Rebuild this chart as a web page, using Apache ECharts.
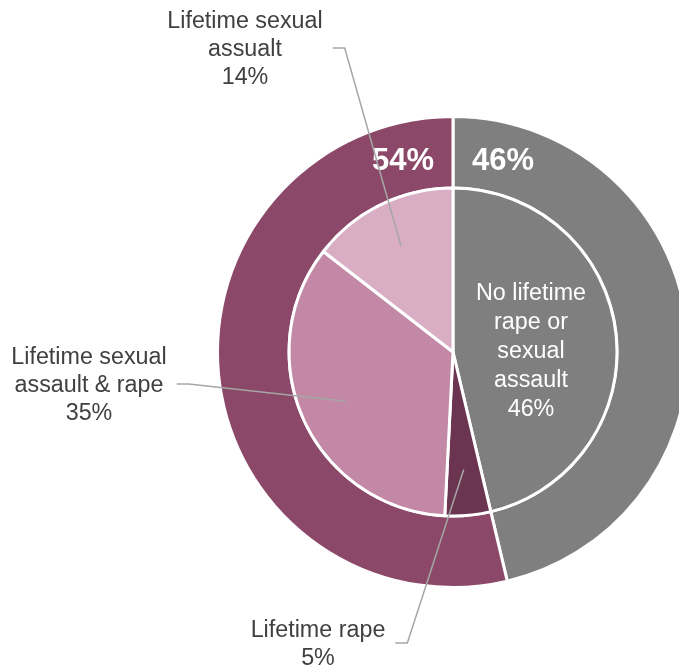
<!DOCTYPE html>
<html><head><meta charset="utf-8">
<script src="https://cdn.jsdelivr.net/npm/echarts@6/dist/echarts.min.js"></script>
<style>html,body{margin:0;padding:0;background:#fff}#c{width:679px;height:669px}</style>
</head><body><div id="c"></div>
<script>
// ---- data ----
const innerCategories = ['No lifetime rape or sexual assault', 'Lifetime rape', 'Lifetime sexual assault & rape', 'Lifetime sexual assualt'];
const innerLabelNames = ['No lifetime\nrape or\nsexual\nassault', 'Lifetime rape', 'Lifetime sexual\nassault & rape', 'Lifetime sexual\nassualt'];
const innerValues = [46.3, 4.5, 34.7, 14.5];
const innerPercentLabels = ['46%', '5%', '35%', '14%'];
const outerCategories = ['No lifetime rape or sexual assault', 'Any lifetime rape or sexual assault'];
const outerValues = [46.3, 53.7];
const outerPercentLabels = ['46%', '54%'];

// ---- styles / layout ----
const innerColors = ['#7f7f7f', '#6b3551', '#c288a5', '#d9aec4'];
const outerColors = ['#7f7f7f', '#8b4868'];
const FONT = '"Liberation Sans", Arial, sans-serif';
const CX = 453, CY = 352, R_IN = 164, R_OUT = 235.5;
const innerLabelPos = [[531, 352], [318, 645], [89, 386], [245, 50]];
const outerLabelPos = [[503, 161], [403, 161]];

function midAngle(values, i) {
  const total = values.reduce((a, b) => a + b, 0);
  let acc = 0;
  for (let k = 0; k < i; k++) acc += values[k];
  return (acc + values[i] / 2) / total * 2 * Math.PI;
}

const common = {
  type: 'pie',
  center: [CX, CY],
  startAngle: 90,
  clockwise: true,
  avoidLabelOverlap: false,
  silent: true,
  emphasis: {disabled: true}
};

const chart = echarts.init(document.getElementById('c'), null, {renderer: 'canvas'});
chart.setOption({
  animation: false,
  backgroundColor: '#ffffff',
  series: [
    Object.assign({}, common, {
      name: 'outer',
      z: 2,
      radius: [R_IN, R_OUT],
      itemStyle: {borderColor: '#ffffff', borderWidth: 3},
      label: {
        show: true,
        position: 'inside',
        formatter: p => outerPercentLabels[p.dataIndex],
        color: '#ffffff',
        fontFamily: FONT,
        fontWeight: 'bold',
        fontSize: 31
      },
      labelLine: {show: false},
      labelLayout: p => ({x: outerLabelPos[p.dataIndex][0], y: outerLabelPos[p.dataIndex][1], align: 'center', verticalAlign: 'middle'}),
      data: outerCategories.map((c, i) => ({name: c, value: outerValues[i], itemStyle: {color: outerColors[i]}}))
    }),
    Object.assign({}, common, {
      name: 'inner',
      z: 4,
      radius: [0, R_IN],
      itemStyle: {borderColor: '#ffffff', borderWidth: 3},
      label: {
        show: true,
        position: 'inside',
        formatter: p => p.dataIndex === 0 ? innerLabelNames[0] + '\n' + innerPercentLabels[0] : '',
        color: '#ffffff',
        fontFamily: FONT,
        fontSize: 23.3,
        lineHeight: 29,
        align: 'center'
      },
      labelLine: {show: false},
      labelLayout: p => p.dataIndex === 0 ? {x: innerLabelPos[0][0], y: innerLabelPos[0][1], align: 'center', verticalAlign: 'middle'} : {},
      data: innerCategories.map((c, i) => ({name: c, value: innerValues[i], itemStyle: {color: innerColors[i]}}))
    }),
    Object.assign({}, common, {
      name: 'inner-labels',
      z: 8,
      radius: [0, R_IN],
      itemStyle: {color: 'rgba(0,0,0,0)', borderWidth: 0},
      label: {
        show: true,
        position: 'outside',
        formatter: p => innerLabelNames[p.dataIndex] + '\n' + innerPercentLabels[p.dataIndex],
        color: '#404040',
        fontFamily: FONT,
        fontSize: 23.3,
        lineHeight: 28,
        align: 'center'
      },
      labelLine: {show: true, smooth: false, lineStyle: {color: '#a6a6a6', width: 1.5}},
      labelLayout: function (p) {
        const i = p.dataIndex;
        const pos = innerLabelPos[i];
        const out = {x: pos[0], y: pos[1], align: 'center', verticalAlign: 'middle'};
        const a = midAngle(innerValues, i);
        const r = R_IN * 0.72;
        const px = CX + r * Math.sin(a), py = CY - r * Math.cos(a);
        const right = pos[0] + p.labelRect.width / 2;
        out.labelLinePoints = [[px, py], [right + 22, pos[1] - 2], [right + 10, pos[1] - 2]];
        return out;
      },
      data: innerCategories.map((c, i) => {
        const d = {name: c, value: innerValues[i]};
        if (i === 0) {
          d.label = {show: false};
          d.labelLine = {show: false};
        }
        return d;
      })
    })
  ]
});
</script></body></html>
